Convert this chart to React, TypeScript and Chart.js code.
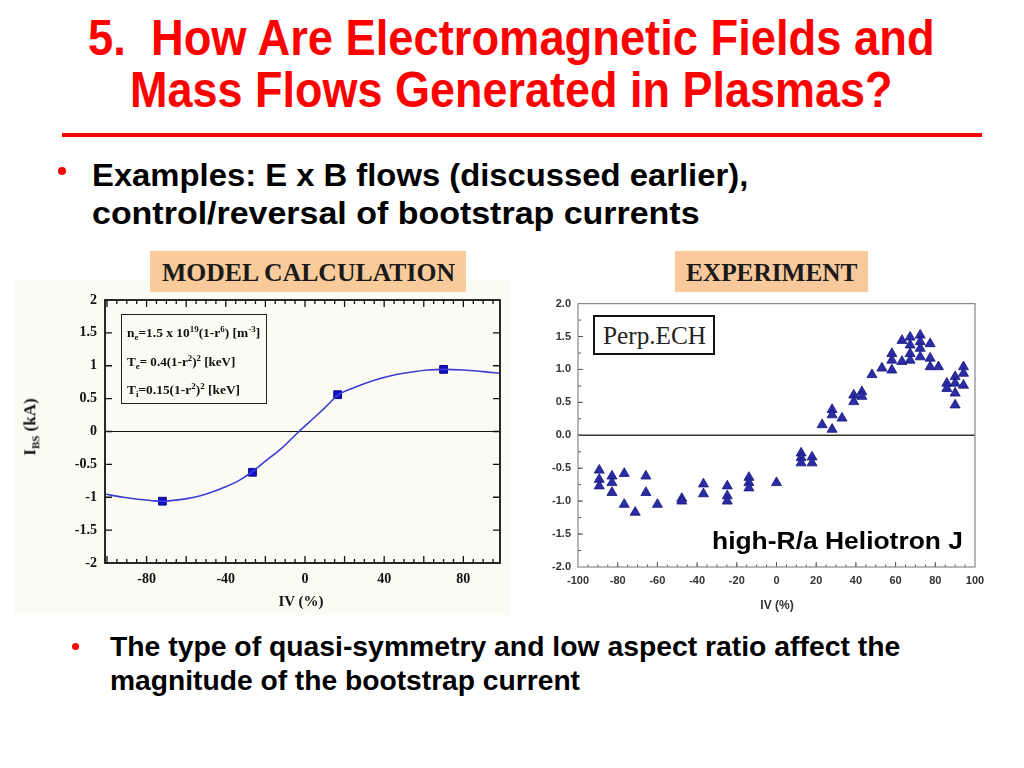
import React, { useEffect, useLayoutEffect, useRef, useState } from 'react';
import { Chart, registerables } from 'chart.js';

Chart.register(...registerables);

// ---------------- DATA ----------------
// Model calculation (left panel)
const modelCurveX = [-101, -92, -84, -76, -72, -64, -56, -48, -40, -33, -27, -20, -12, -3, 5, 10, 17, 25, 35, 45, 55, 62, 70, 80, 90, 98.5];
const modelCurveY = [-0.95, -1.0, -1.03, -1.055, -1.06, -1.04, -1.0, -0.93, -0.84, -0.74, -0.62, -0.45, -0.26, 0.0, 0.22, 0.36, 0.56, 0.67, 0.78, 0.86, 0.91, 0.935, 0.945, 0.935, 0.91, 0.885];
const modelPointX = [-72, -26.5, 16.5, 70];
const modelPointY = [-1.06, -0.62, 0.56, 0.945];
const modelXTicks = [-80, -40, 0, 40, 80];
const modelXLabels = ['-80', '-40', '0', '40', '80'];
const modelYTicks = [2, 1.5, 1, 0.5, 0, -0.5, -1, -1.5, -2];
const modelYLabels = ['2', '1.5', '1', '0.5', '0', '-0.5', '-1', '-1.5', '-2'];

// Experiment (right panel)
const expX = [
  -89.3, -89.3, -89.3, -82.9, -82.9, -82.9, -76.7, -76.7, -71.2, -65.8, -65.8, -60,
  -47.7, -47.7, -36.8, -36.8, -24.8, -24.8, -24.8, -13.9, -13.9, -13.9, 0,
  12.4, 12.4, 12.4, 17.9, 17.9, 23, 28, 28, 28, 33, 38.9, 38.9, 43, 43, 48.1, 53.1,
  58.1, 58.1, 58.1, 63.2, 63.2, 67.3, 67.3, 67.3, 67.3, 72.4, 72.4, 72.4, 72.4,
  77.4, 77.4, 77.4, 81.6, 85.8, 85.8, 90, 90, 90, 90, 94.2, 94.2, 94.2,
];
const expY = [
  -0.53, -0.67, -0.77, -0.62, -0.72, -0.87, -0.58, -1.05, -1.17, -0.62, -0.87, -1.05,
  -0.96, -1.0, -0.74, -0.89, -0.77, -0.92, -1.0, -0.64, -0.72, -0.8, -0.72,
  -0.27, -0.34, -0.42, -0.33, -0.42, 0.16, 0.09, 0.39, 0.31, 0.26, 0.61, 0.51, 0.66, 0.59, 0.92, 1.02,
  1.24, 1.14, 0.99, 1.12, 1.44, 1.49, 1.37, 1.24, 1.14, 1.52, 1.42, 1.32, 1.19,
  1.39, 1.17, 1.04, 1.04, 0.79, 0.71, 0.89, 0.79, 0.64, 0.46, 1.04, 0.94, 0.76,
];
const expXTicks = [-100, -80, -60, -40, -20, 0, 20, 40, 60, 80, 100];
const expXLabels = ['-100', '-80', '-60', '-40', '-20', '0', '20', '40', '60', '80', '100'];
const expYTicks = [2, 1.5, 1, 0.5, 0, -0.5, -1, -1.5, -2];
const expYLabels = ['2.0', '1.5', '1.0', '0.5', '0.0', '-0.5', '-1.0', '-1.5', '-2.0'];

// ---------------- helpers ----------------
const SANS = '"Liberation Sans", Arial, Helvetica, sans-serif';
const SERIF = '"Liberation Serif", "Times New Roman", Times, serif';

function range(a: number, b: number, step: number): number[] {
  const out: number[] = [];
  for (let v = a; v <= b + 1e-9; v += step) out.push(Math.round(v * 1000) / 1000);
  return out;
}

const innerTicks = {
  id: 'innerTicks',
  beforeDatasetsDraw(chart: any, _a: any, opts: any) {
    if (!opts || !opts.zeroLine) return;
    const { ctx, chartArea: a, scales } = chart;
    const y0 = scales.y.getPixelForValue(0);
    ctx.save();
    ctx.strokeStyle = opts.zeroLine.color;
    ctx.lineWidth = opts.zeroLine.width;
    ctx.beginPath();
    ctx.moveTo(a.left, y0);
    ctx.lineTo(a.right, y0);
    ctx.stroke();
    ctx.restore();
  },
  afterDatasetsDraw(chart: any, _a: any, opts: any) {
    if (!opts || !opts.borderColor) return;
    const { ctx, chartArea: a, scales } = chart;
    ctx.save();
    ctx.strokeStyle = opts.tickColor;
    ctx.lineWidth = opts.tickWidth;
    ctx.beginPath();
    for (const t of opts.xTicks || []) {
      for (const v of t.values) {
        const px = scales.x.getPixelForValue(v);
        if (px <= a.left + 1 || px >= a.right - 1) continue;
        for (const side of t.sides) {
          if (side === 'bottom') { ctx.moveTo(px, a.bottom); ctx.lineTo(px, a.bottom - t.len); }
          else { ctx.moveTo(px, a.top); ctx.lineTo(px, a.top + t.len); }
        }
      }
    }
    for (const t of opts.yTicks || []) {
      for (const v of t.values) {
        const py = scales.y.getPixelForValue(v);
        if (py <= a.top + 1 || py >= a.bottom - 1) continue;
        for (const side of t.sides) {
          if (side === 'left') { ctx.moveTo(a.left, py); ctx.lineTo(a.left + t.len, py); }
          else { ctx.moveTo(a.right, py); ctx.lineTo(a.right - t.len, py); }
        }
      }
    }
    ctx.stroke();
    ctx.strokeStyle = opts.borderColor;
    ctx.lineWidth = opts.borderWidth;
    ctx.strokeRect(a.left, a.top, a.right - a.left, a.bottom - a.top);
    ctx.restore();
  },
};
Chart.register(innerTicks as any);

type FitProps = {
  left: number; cy: number; width: number; size: number;
  family?: string; weight?: string | number; color?: string; children: React.ReactNode;
};

function FitText({ left, cy, width, size, family = SANS, weight = 'bold', color = '#000', children }: FitProps) {
  const ref = useRef<HTMLSpanElement>(null);
  const [sx, setSx] = useState(1);
  useLayoutEffect(() => {
    const el = ref.current;
    if (!el) return;
    const w = el.offsetWidth;
    if (w > 0) setSx(width / w);
  }, [width]);
  return (
    <span
      ref={ref}
      style={{
        position: 'absolute', left, top: cy - size * 0.5, fontFamily: family, fontWeight: weight as any,
        fontSize: size, lineHeight: `${size}px`, color, whiteSpace: 'pre', display: 'inline-block',
        transform: `scaleX(${sx})`, transformOrigin: 'left center',
      }}
    >
      {children}
    </span>
  );
}

function ModelChart() {
  const ref = useRef<HTMLCanvasElement>(null);
  useEffect(() => {
    if (!ref.current) return;
    const font = { family: SERIF, weight: 'bold' as const, size: 14 };
    const chart = new Chart(ref.current, {
      type: 'scatter',
      data: {
        datasets: [
          {
            data: modelCurveX.map((x, i) => ({ x, y: modelCurveY[i] })),
            showLine: true, borderColor: '#3c3cd2', borderWidth: 1.6, pointRadius: 0,
            cubicInterpolationMode: 'monotone', fill: false,
          } as any,
          {
            data: modelPointX.map((x, i) => ({ x, y: modelPointY[i] })),
            pointStyle: 'rect', pointRadius: 5.5, backgroundColor: '#1212c4', borderColor: '#0a0a8c', borderWidth: 1,
          } as any,
        ],
      },
      options: {
        animation: false, responsive: false, maintainAspectRatio: false,
        layout: { padding: { left: 0, right: 10, top: 20, bottom: 0 } },
        plugins: {
          legend: { display: false }, tooltip: { enabled: false },
          innerTicks: {
            zeroLine: { color: '#111', width: 1.2 },
            borderColor: '#111', borderWidth: 1.8, tickColor: '#111', tickWidth: 1.3,
            xTicks: [
              { values: range(-100, 95, 5), len: 4, sides: ['bottom', 'top'] },
              { values: range(-100, 80, 20), len: 7, sides: ['bottom', 'top'] },
            ],
            yTicks: [{ values: modelYTicks, len: 7, sides: ['left', 'right'] }],
          },
        } as any,
        scales: {
          x: {
            type: 'linear', min: -101, max: 98.5,
            grid: { display: false, drawTicks: false }, border: { display: false },
            afterBuildTicks: (s: any) => { s.ticks = modelXTicks.map((v) => ({ value: v })); },
            afterFit: (s: any) => { s.height = 52; },
            ticks: {
              padding: 8, font, color: '#111', maxRotation: 0, autoSkip: false,
              callback: (v: any) => { const i = modelXTicks.indexOf(Number(v)); return i >= 0 ? modelXLabels[i] : ''; },
            },
          },
          y: {
            type: 'linear', min: -2, max: 2,
            grid: { display: false, drawTicks: false }, border: { display: false },
            afterBuildTicks: (s: any) => { s.ticks = modelYTicks.map((v) => ({ value: v })); },
            afterFit: (s: any) => { s.width = 90; },
            ticks: {
              padding: 8, font, color: '#111', autoSkip: false,
              callback: (v: any) => { const i = modelYTicks.indexOf(Number(v)); return i >= 0 ? modelYLabels[i] : ''; },
            },
          },
        },
      },
    });
    return () => chart.destroy();
  }, []);
  return <canvas ref={ref} width={495} height={335} style={{ position: 'absolute', left: 15, top: 280, width: 495, height: 335 }} />;
}

function ExpChart() {
  const ref = useRef<HTMLCanvasElement>(null);
  useEffect(() => {
    if (!ref.current) return;
    const font = { family: SANS, weight: 'bold' as const, size: 11 };
    const chart = new Chart(ref.current, {
      type: 'scatter',
      data: {
        datasets: [
          {
            data: expX.map((x, i) => ({ x, y: expY[i] })),
            pointStyle: 'triangle', pointRadius: 5.8, backgroundColor: '#2c2ca6', borderColor: '#15157a', borderWidth: 0.8,
          } as any,
        ],
      },
      options: {
        animation: false, responsive: false, maintainAspectRatio: false,
        layout: { padding: { left: 0, right: 25, top: 13, bottom: 0 } },
        plugins: {
          legend: { display: false }, tooltip: { enabled: false },
          innerTicks: {
            zeroLine: { color: '#333', width: 1.6 },
            borderColor: '#888', borderWidth: 1.2, tickColor: '#555', tickWidth: 1,
            xTicks: [
              { values: range(-100, 100, 5), len: 2.5, sides: ['bottom'] },
              { values: expXTicks, len: 5, sides: ['bottom'] },
            ],
            yTicks: [
              { values: range(-2, 2, 0.25), len: 3, sides: ['left'] },
              { values: expYTicks, len: 5, sides: ['left'] },
            ],
          },
        } as any,
        scales: {
          x: {
            type: 'linear', min: -100, max: 100,
            grid: { display: false, drawTicks: false }, border: { display: false },
            afterBuildTicks: (s: any) => { s.ticks = expXTicks.map((v) => ({ value: v })); },
            afterFit: (s: any) => { s.height = 53; },
            ticks: {
              padding: 7, font, color: '#333', maxRotation: 0, autoSkip: false,
              callback: (v: any) => { const i = expXTicks.indexOf(Number(v)); return i >= 0 ? expXLabels[i] : ''; },
            },
          },
          y: {
            type: 'linear', min: -2, max: 2,
            grid: { display: false, drawTicks: false }, border: { display: false },
            afterBuildTicks: (s: any) => { s.ticks = expYTicks.map((v) => ({ value: v })); },
            afterFit: (s: any) => { s.width = 48; },
            ticks: {
              padding: 7, font, color: '#333', autoSkip: false,
              callback: (v: any) => { const i = expYTicks.indexOf(Number(v)); return i >= 0 ? expYLabels[i] : ''; },
            },
          },
        },
      },
    });
    return () => chart.destroy();
  }, []);
  return <canvas ref={ref} width={470} height={330} style={{ position: 'absolute', left: 530, top: 290, width: 470, height: 330 }} />;
}

export default function App() {
  const dot = (x: number, y: number, d: number) => (
    <div style={{ position: 'absolute', left: x - d / 2, top: y - d / 2, width: d, height: d, borderRadius: '50%', background: '#ff0000' }} />
  );
  return (
    <div style={{ position: 'fixed', left: 0, top: 0, width: 1024, height: 768, background: '#ffffff', overflow: 'hidden' }}>
      {/* Title */}
      <FitText left={88} cy={38} width={847} size={50} color="#ff0000">{'5.  How Are Electromagnetic Fields and'}</FitText>
      <FitText left={130} cy={90} width={763} size={50} color="#ff0000">Mass Flows Generated in Plasmas?</FitText>
      <div style={{ position: 'absolute', left: 62, top: 133, width: 920, height: 4, background: '#ff0000' }} />

      {/* Bullet 1 */}
      {dot(62, 171, 8)}
      <FitText left={92} cy={175} width={656} size={32}>Examples: E x B flows (discussed earlier),</FitText>
      <FitText left={92} cy={213} width={608} size={32}>control/reversal of bootstrap currents</FitText>

      {/* Left panel */}
      <div style={{ position: 'absolute', left: 15, top: 280, width: 495, height: 335, background: '#fbfbf3' }} />
      <ModelChart />
      <div style={{ position: 'absolute', left: 150, top: 251, width: 316, height: 41, background: '#f9cb9b' }} />
      <FitText left={162} cy={272} width={293} size={25} family={SERIF} color="#1a1a1a">MODEL CALCULATION</FitText>
      <div style={{ position: 'absolute', left: 121, top: 314, width: 146, height: 90, border: '1.6px solid #222', boxSizing: 'border-box' }} />
      <FitText left={127} cy={330} width={133} size={12} family={SERIF} color="#111">
        <>n<sub style={{ fontSize: 8 }}>e</sub>=1.5 x 10<sup style={{ fontSize: 8 }}>19</sup>(1-r<sup style={{ fontSize: 8 }}>6</sup>) [m<sup style={{ fontSize: 8 }}>-3</sup>]</>
      </FitText>
      <FitText left={127} cy={359} width={108} size={12} family={SERIF} color="#111">
        <>T<sub style={{ fontSize: 8 }}>e</sub>= 0.4(1-r<sup style={{ fontSize: 8 }}>2</sup>)<sup style={{ fontSize: 8 }}>2</sup> [keV]</>
      </FitText>
      <FitText left={127} cy={387} width={113} size={12} family={SERIF} color="#111">
        <>T<sub style={{ fontSize: 8 }}>i</sub>=0.15(1-r<sup style={{ fontSize: 8 }}>2</sup>)<sup style={{ fontSize: 8 }}>2</sup> [keV]</>
      </FitText>
      <div style={{
        position: 'absolute', left: 33, top: 427, transform: 'translate(-50%, -50%) rotate(-90deg)',
        fontFamily: SERIF, fontWeight: 'bold', fontSize: 17, whiteSpace: 'nowrap', color: '#111', lineHeight: '18px',
      }}>
        I<sub style={{ fontSize: 11 }}>BS</sub>{'  '}(kA)
      </div>
      <div style={{
        position: 'absolute', left: 301, top: 601, transform: 'translate(-50%, -50%)',
        fontFamily: SERIF, fontWeight: 'bold', fontSize: 15, whiteSpace: 'nowrap', color: '#111',
      }}>IV (%)</div>

      {/* Right panel */}
      <ExpChart />
      <div style={{ position: 'absolute', left: 675, top: 251, width: 193, height: 41, background: '#f9c99c' }} />
      <FitText left={686} cy={272} width={171} size={25} family={SERIF} color="#1a1a1a">EXPERIMENT</FitText>
      <div style={{ position: 'absolute', left: 593, top: 315, width: 122, height: 40, border: '2.5px solid #111', boxSizing: 'border-box', background: '#fff' }} />
      <FitText left={603} cy={335} width={103} size={25} family={SERIF} weight="normal" color="#222">Perp.ECH</FitText>
      <FitText left={712} cy={541} width={251} size={24}>high-R/a Heliotron J</FitText>
      <div style={{
        position: 'absolute', left: 777, top: 605, transform: 'translate(-50%, -50%)',
        fontFamily: SANS, fontWeight: 'bold', fontSize: 12, whiteSpace: 'nowrap', color: '#333',
      }}>IV (%)</div>

      {/* Bullet 2 */}
      {dot(75, 646, 7)}
      <FitText left={110} cy={647} width={790} size={27}>The type of quasi-symmetry and low aspect ratio affect the</FitText>
      <FitText left={110} cy={681} width={470} size={27}>magnitude of the bootstrap current</FitText>
    </div>
  );
}
